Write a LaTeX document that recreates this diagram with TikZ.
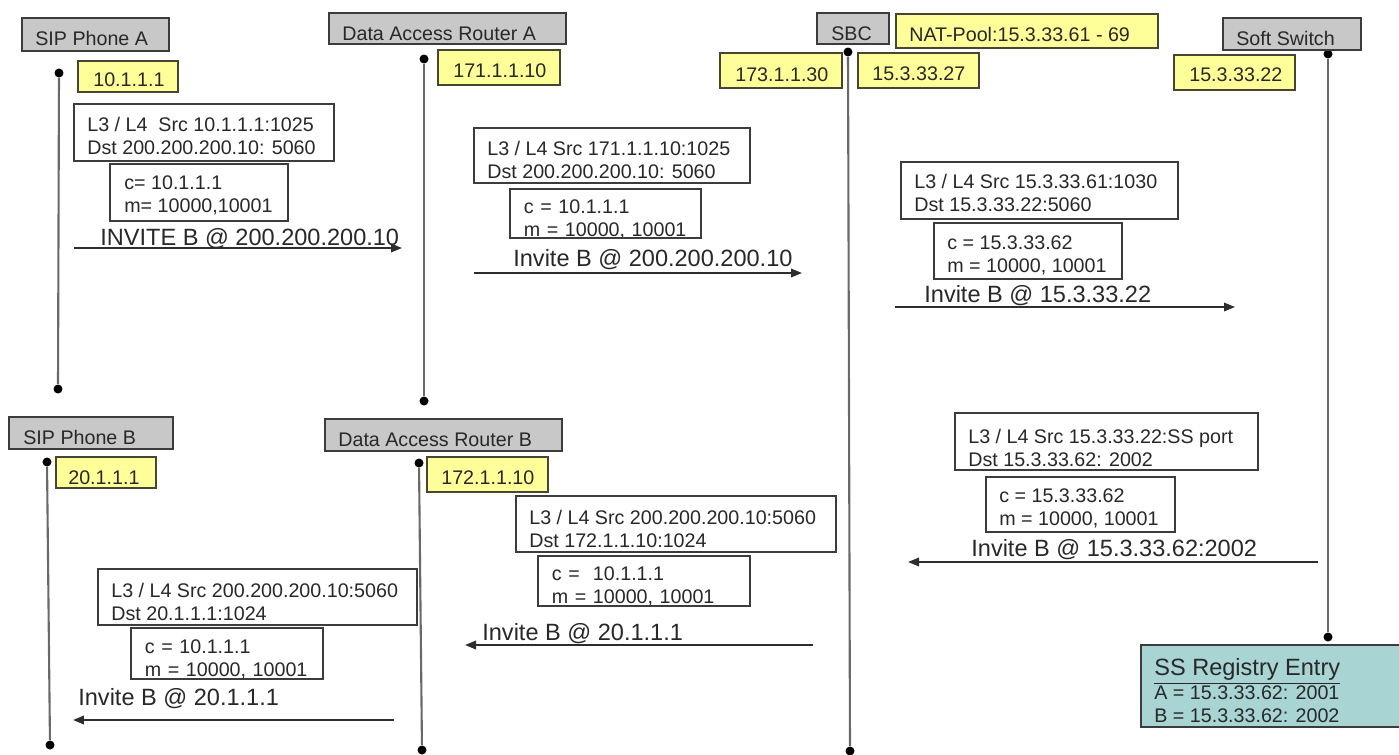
\documentclass[tikz,border=0pt]{standalone}
\usepackage{fontspec}
\setmainfont{Liberation Sans}
\usetikzlibrary{arrows.meta,fit}
\definecolor{hdrfill}{RGB}{200,200,200}
\definecolor{boxline}{RGB}{60,60,60}
\definecolor{ipyellow}{RGB}{255,255,153}
\definecolor{ipline}{RGB}{70,70,50}
\definecolor{regteal}{RGB}{168,212,212}
\definecolor{lifegray}{RGB}{105,105,105}
\definecolor{arrowgray}{RGB}{45,45,45}
\definecolor{txt}{RGB}{40,40,40}
\tikzset{
  hdrbox/.style={fill=hdrfill, draw=boxline, line width=1.1pt, inner sep=0pt},
  ipbox/.style={fill=ipyellow, draw=ipline, line width=1.1pt, inner sep=0pt},
  msgbox/.style={fill=white, draw=boxline, line width=1.1pt, inner sep=0pt},
  regbox/.style={fill=regteal, draw=boxline, line width=1.1pt, inner sep=0pt},
  lbl/.style={anchor=west, inner sep=0pt, font=\fontsize{11.2}{13.1}\selectfont, text=txt, align=left},
  slbl/.style={anchor=base west, inner sep=0pt, font=\fontsize{11.2}{13.1}\selectfont, text=txt},
  biglbl/.style={anchor=base west, inner sep=0pt, font=\fontsize{13.4}{16}\selectfont, text=txt},
  dot/.style={circle, fill=black, inner sep=0pt, minimum size=0.18cm},
  life/.style={draw=lifegray, line width=1.2pt},
  msgarrow/.style={draw=arrowgray, line width=1.1pt, -{Triangle[length=0.22cm,width=0.17cm]}},
}
\begin{document}
\begin{tikzpicture}[x=0.02cm, y=-0.02cm]
\useasboundingbox (0,0) rectangle (1399,754);

% ---------- lifelines ----------
\node[dot] (a1) at (59,73) {};   \node[dot] (a2) at (58,389) {};
\node[dot] (ra1) at (424,59) {}; \node[dot] (ra2) at (424,401) {};
\node[dot] (s1) at (848,52) {};  \node[dot] (s2) at (850,751) {};
\node[dot] (ss1) at (1328,54) {}; \node[dot] (ss2) at (1328,637) {};
\node[dot] (b1) at (47,462) {};  \node[dot] (b2) at (50,745) {};
\node[dot] (rb1) at (419,463) {}; \node[dot] (rb2) at (422,750) {};
\draw[life] (a1) -- (a2);
\draw[life] (ra1) -- (ra2);
\draw[life] (s1) -- (s2);
\draw[life] (ss1) -- (ss2);
\draw[life] (b1) -- (b2);
\draw[life] (rb1) -- (rb2);

% ---------- header boxes ----------
\node[hdrbox, fit={(22,18)(169,51)}] (hA) {};
\node[slbl] (hAt) at (35,45) {SIP Phone A};
\node[hdrbox, fit={(329,13)(566,44)}] (hRA) {};
\node[slbl] (hRAt) at (342,40) {Data Access Router A};
\node[hdrbox, fit={(817,13)(889,44)}] (hS) {};
\node[slbl] (hSt) at (831,40) {SBC};
\node[hdrbox, fit={(1223,18)(1361,50)}] (hSS) {};
\node[slbl] (hSSt) at (1236,45) {Soft Switch};
\node[hdrbox, fit={(9,417)(173,449)}] (hB) {};
\node[slbl] (hBt) at (23,444) {SIP Phone B};
\node[hdrbox, fit={(325,419)(562,451)}] (hRB) {};
\node[slbl] (hRBt) at (338,446) {Data Access Router B};

% ---------- address boxes ----------
\node[ipbox, fit={(78,61)(178,92)}] (yA) {};
\node[slbl] (yAt) at (93,86) {10.1.1.1};
\node[ipbox, fit={(438,50)(560,85)}] (yRA) {};
\node[slbl] (yRAt) at (453,77) {171.1.1.10};
\node[ipbox, fit={(720,53)(842,88)}] (ySl) {};
\node[slbl] (ySlt) at (735,81) {173.1.1.30};
\node[ipbox, fit={(858,53)(979,88)}] (ySr) {};
\node[slbl] (ySrt) at (872,80) {15.3.33.27};
\node[ipbox, fit={(896,14)(1158,48)}] (yNAT) {};
\node[slbl] (yNATt) at (909,41) {NAT-Pool:15.3.33.61 - 69};
\node[ipbox, fit={(1174,55)(1295,90)}] (ySS) {};
\node[slbl] (ySSt) at (1189,81) {15.3.33.22};
\node[ipbox, fit={(56,457)(156,488)}] (yB) {};
\node[slbl] (yBt) at (68,484) {20.1.1.1};
\node[ipbox, fit={(427,457)(548,492)}] (yRB) {};
\node[slbl] (yRBt) at (441,484) {172.1.1.10};

% ---------- message 1: A -> Router A ----------
\node[msgbox, fit={(74,104)(334,161)}] (l3A) {};
\node[lbl] (l3At) at (87,135.5) {L3 / L4 \ Src 10.1.1.1:1025\\Dst 200.200.200.10: 5060};
\node[msgbox, fit={(110,164)(288,221)}] (cA) {};
\node[lbl] (cAt) at (124,195) {c= 10.1.1.1\\m= 10000,10001};
\coordinate (m1s) at (74,248); \coordinate (m1e) at (402,248);
\draw[msgarrow] (m1s) -- (m1e);
\node[biglbl] (m1t) at (100,245.5) {INVITE B @ 200.200.200.10};

% ---------- message 2: Router A -> SBC ----------
\node[msgbox, fit={(474,128)(750,183)}] (l3RA) {};
\node[lbl] (l3RAt) at (487,159.5) {L3 / L4 Src 171.1.1.10:1025\\Dst 200.200.200.10: 5060};
\node[msgbox, fit={(510,189)(701,238)}, path picture={
  \node[lbl] at ([xshift=0.26cm,yshift=-0.74cm]path picture bounding box.north west) {c = 10.1.1.1\\m = 10000, 10001};
}] (cRA) {};
\coordinate (m2s) at (474,273); \coordinate (m2e) at (802,273);
\draw[msgarrow] (m2s) -- (m2e);
\node[biglbl] (m2t) at (513,266.5) {Invite B @ 200.200.200.10};

% ---------- message 3: SBC -> Soft Switch ----------
\node[msgbox, fit={(901,162)(1178,219)}] (l3S) {};
\node[lbl] (l3St) at (914,193) {L3 / L4 Src 15.3.33.61:1030\\Dst 15.3.33.22:5060};
\node[msgbox, fit={(934,223)(1122,279)}] (cS) {};
\node[lbl] (cSt) at (947,255) {c = 15.3.33.62\\m = 10000, 10001};
\coordinate (m3s) at (895,307); \coordinate (m3e) at (1235,307);
\draw[msgarrow] (m3s) -- (m3e);
\node[biglbl] (m3t) at (924,302.5) {Invite B @ 15.3.33.22};

% ---------- message 4: Soft Switch -> SBC ----------
\node[msgbox, fit={(955,413)(1258,470)}] (l3SS) {};
\node[lbl] (l3SSt) at (968,447.5) {L3 / L4 Src 15.3.33.22:SS port\\Dst 15.3.33.62: 2002};
\node[msgbox, fit={(986,477)(1175,532)}] (cSS) {};
\node[lbl] (cSSt) at (999,508.5) {c = 15.3.33.62\\m = 10000, 10001};
\coordinate (m4s) at (1318,562); \coordinate (m4e) at (908,562);
\draw[msgarrow] (m4s) -- (m4e);
\node[biglbl] (m4t) at (971,556.5) {Invite B @ 15.3.33.62:2002};

% ---------- message 5: SBC -> Router B ----------
\node[msgbox, fit={(516,496)(836,552)}] (l3RB) {};
\node[lbl] (l3RBt) at (529,528.5) {L3 / L4 Src 200.200.200.10:5060\\Dst 172.1.1.10:1024};
\node[msgbox, fit={(538,556)(750,606)}, path picture={
  \node[lbl] at ([xshift=0.26cm,yshift=-0.74cm]path picture bounding box.north west) {c = \ 10.1.1.1\\m = 10000, 10001};
}] (cRB) {};
\coordinate (m5s) at (813,645); \coordinate (m5e) at (465,645);
\draw[msgarrow] (m5s) -- (m5e);
\node[biglbl] (m5t) at (482,640.5) {Invite B @ 20.1.1.1};

% ---------- message 6: Router B -> B ----------
\node[msgbox, fit={(98,569)(417,625)}] (l3B) {};
\node[lbl] (l3Bt) at (111,601.5) {L3 / L4 Src 200.200.200.10:5060\\Dst 20.1.1.1:1024};
\node[msgbox, fit={(131,628)(323,679)}, path picture={
  \node[lbl] at ([xshift=0.26cm,yshift=-0.76cm]path picture bounding box.north west) {c = 10.1.1.1\\m = 10000, 10001};
}] (cB) {};
\coordinate (m6s) at (394,720); \coordinate (m6e) at (73,720);
\draw[msgarrow] (m6s) -- (m6e);
\node[biglbl] (m6t) at (78,705.5) {Invite B @ 20.1.1.1};

% ---------- registry ----------
\node[regbox, fit={(1141,645)(1404,727)}] (reg) {};
\node[biglbl] (regt) at (1154,675.5) {\underline{SS Registry Entry}};
\node[lbl] (regl) at (1154,704.5) {A = 15.3.33.62: 2001\\B = 15.3.33.62: 2002};
\end{tikzpicture}
\end{document}
